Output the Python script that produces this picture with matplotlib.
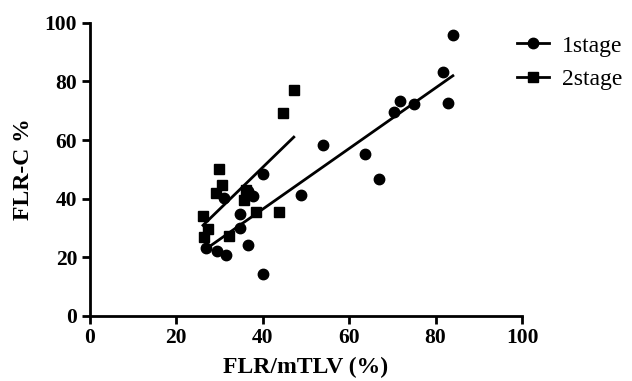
import numpy as np
import matplotlib
matplotlib.use("Agg")
import matplotlib.pyplot as plt

# 1stage (circles)
x1 = [84.0, 81.7, 82.9, 75.0, 71.8, 70.4, 53.9, 63.7, 66.9, 48.8,
      40.0, 37.7, 36.5, 34.7, 34.7, 36.6, 40.0, 31.5, 29.4, 27.0, 31.0]
y1 = [96.0, 83.3, 72.7, 72.4, 73.4, 69.6, 58.4, 55.3, 46.8, 41.3,
      48.5, 41.0, 42.5, 34.8, 30.0, 24.2, 14.3, 20.8, 22.2, 23.2, 40.3]

# 2stage (squares)
x2 = [29.9, 30.6, 29.2, 26.2, 27.3, 26.4, 32.2, 38.4, 43.8, 35.6, 36.1, 47.2, 44.7]
y2 = [50.2, 44.7, 42.0, 34.2, 29.7, 27.0, 27.3, 35.5, 35.5, 39.6, 43.0, 77.1, 69.3]

plt.rcParams['font.family'] = ['Liberation Serif', 'DejaVu Serif']

fig = plt.figure(figsize=(6.32, 3.81), dpi=100)
ax = fig.add_axes([0.142, 0.171, 0.684, 0.769])

ax.plot(x1, y1, 'o', color='black', markersize=7.5, label='1stage')
ax.plot(x2, y2, 's', color='black', markersize=7.5, label='2stage')

for xs, ys in [(x1, y1), (x2, y2)]:
    k, b = np.polyfit(xs, ys, 1)
    xx = np.array([min(xs), max(xs)])
    ax.plot(xx, k * xx + b, color='black', lw=2)

ax.set_xlim(0, 100)
ax.set_ylim(0, 100)
ax.set_xticks([0, 20, 40, 60, 80, 100])
ax.set_yticks([0, 20, 40, 60, 80, 100])
for s in ['top', 'right']:
    ax.spines[s].set_visible(False)
for s in ['left', 'bottom']:
    ax.spines[s].set_linewidth(2)
ax.tick_params(width=2, length=6, labelsize=15.5, pad=3)
for lab in ax.get_xticklabels() + ax.get_yticklabels():
    lab.set_fontweight('bold')

ax.set_xlabel('FLR/mTLV (%)', fontsize=17, fontweight='bold', labelpad=6)
ax.set_ylabel('FLR-C %', fontsize=17, fontweight='bold', labelpad=8)

h1, = ax.plot([], [], 'o-', color='black', markersize=7.5, lw=2)
h2, = ax.plot([], [], 's-', color='black', markersize=7.5, lw=2)
fig.legend([h1, h2], ['1stage', '2stage'], loc='upper left',
           bbox_to_anchor=(0.818, 0.908), frameon=False, fontsize=17,
           borderpad=0, borderaxespad=0,
           handlelength=1.35, handletextpad=0.55, labelspacing=0.5)

fig.savefig('out.png', dpi=100)
